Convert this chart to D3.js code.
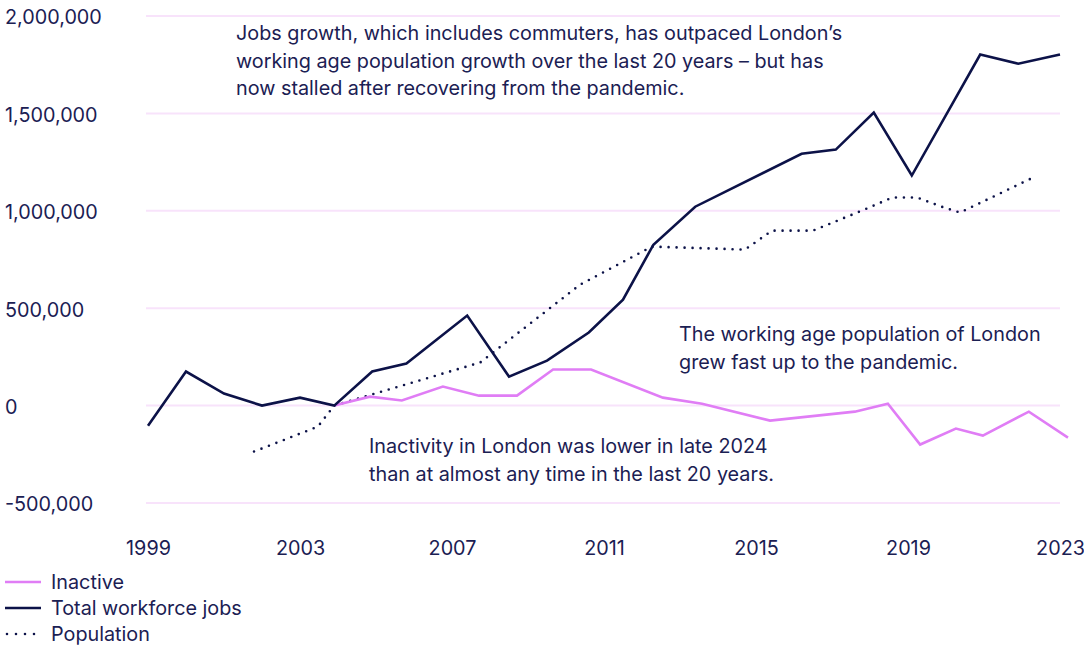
<!DOCTYPE html>
<html lang="en">
<head>
    <meta charset="UTF-8">
    <title>London jobs, population and inactivity</title>
    <script src="https://d3js.org/d3.v7.min.js"></script>
    <style>
        body { margin: 0; background: #fff; overflow: hidden; }
        text { font-family: "Inter", "Lato", sans-serif; }
    </style>
</head>
<body>
    <svg width="1084" height="646" id="chart"></svg>

    <script>
        // Data (change since 2004, decimal years)
        const jobsYears = [1999, 2000, 2001, 2002, 2003, 2003.9, 2004.9, 2005.8, 2007.4, 2008.5, 2009.5,
            2010.6, 2011.5, 2012.3, 2013.4, 2016.2, 2017.1, 2018.1, 2019.1, 2020.9, 2021.9, 2023];
        const jobsValues = [-103000, 175000, 62000, 0, 41000, 0, 175000, 216000, 462000, 149000, 231000,
            375000, 544000, 826000, 1021000, 1293000, 1314000, 1504000, 1181000, 1802000, 1755000, 1802000];

        const inactiveYears = [2003.9, 2004.84, 2005.68, 2006.76, 2007.71, 2008.71, 2009.66, 2010.66,
            2012.55, 2013.58, 2015.37, 2017.6, 2018.47, 2019.32, 2020.26, 2020.97, 2022.18, 2023.21];
        const inactiveValues = [0, 46000, 26000, 98000, 51000, 51000, 185000, 185000,
            41000, 10000, -77000, -31000, 10000, -200000, -118000, -154000, -31000, -164000];

        const popYears = [2001.79, 2003.47, 2003.9, 2007.74, 2010.37, 2012.26, 2014.71, 2015.42,
            2016.5, 2017.9, 2018.58, 2019.24, 2019.9, 2020.37, 2022.34];
        const popValues = [-236000, -108000, 0, 221000, 621000, 816000, 801000, 898000,
            898000, 1010000, 1068000, 1068000, 1020000, 991000, 1175000];

        const yTicks = [-500000, 0, 500000, 1000000, 1500000, 2000000];
        const xTicks = [1999, 2003, 2007, 2011, 2015, 2019, 2023];

        const legendLabels = ["Inactive", "Total workforce jobs", "Population"];

        const notes = [
            { x: 236, y: 40, lines: ["Jobs growth, which includes commuters, has outpaced London\u2019s",
                "working age population growth over the last 20 years \u2013 but has",
                "now stalled after recovering from the pandemic."] },
            { x: 679, y: 341, lines: ["The working age population of London", "grew fast up to the pandemic."] },
            { x: 369, y: 453, lines: ["Inactivity in London was lower in late 2024",
                "than at almost any time in the last 20 years."] }
        ];

        // Colours
        const navy = "#0c1248";
        const textColor = "#1b2053";
        const pink = "#e07df5";
        const gridColor = "#f8e3fb";
        const fontSize = 19.8;

        const svg = d3.select("#chart");

        const x = d3.scaleLinear().domain([1999, 2023]).range([148, 1060]);
        const y = d3.scaleLinear().domain([-500000, 2000000]).range([503, 16]);

        // Gridlines
        svg.append("g")
            .selectAll("line")
            .data(yTicks)
            .join("line")
            .attr("x1", 146)
            .attr("x2", 1060)
            .attr("y1", d => y(d))
            .attr("y2", d => y(d))
            .attr("stroke", gridColor)
            .attr("stroke-width", 2);

        // Y axis labels, left aligned, plain hyphen for negatives
        const fmt = d3.format(",");
        const yAxis = svg.append("g")
            .attr("transform", "translate(5,0)")
            .call(d3.axisRight(y).tickValues(yTicks).tickSize(0).tickPadding(0)
                .tickFormat(d => fmt(d).replace("\u2212", "-")));
        yAxis.select(".domain").remove();
        yAxis.selectAll("text")
            .attr("dy", "0.4em")
            .attr("text-anchor", "start")
            .style("font-family", "Inter, Lato, sans-serif")
            .style("font-size", fontSize + "px")
            .attr("fill", textColor);

        // X axis
        const xAxis = svg.append("g")
            .attr("transform", "translate(0,535)")
            .call(d3.axisBottom(x).tickValues(xTicks).tickSize(0).tickPadding(6)
                .tickFormat(d3.format("d")));
        xAxis.select(".domain").remove();
        xAxis.selectAll("text")
            .style("font-family", "Inter, Lato, sans-serif")
            .style("font-size", fontSize + "px")
            .attr("fill", textColor);

        // Lines
        const line = d3.line().x(d => x(d[0])).y(d => y(d[1]));

        svg.append("path")
            .attr("d", line(popYears.map((yr, i) => [yr, popValues[i]])))
            .attr("fill", "none")
            .attr("stroke", navy)
            .attr("stroke-width", 2.6)
            .attr("stroke-linecap", "round")
            .attr("stroke-dasharray", "0 8");

        svg.append("path")
            .attr("d", line(inactiveYears.map((yr, i) => [yr, inactiveValues[i]])))
            .attr("fill", "none")
            .attr("stroke", pink)
            .attr("stroke-width", 2.6);

        svg.append("path")
            .attr("d", line(jobsYears.map((yr, i) => [yr, jobsValues[i]])))
            .attr("fill", "none")
            .attr("stroke", navy)
            .attr("stroke-width", 2.6);

        // Annotations
        notes.forEach(n => {
            const t = svg.append("text")
                .attr("x", n.x)
                .attr("y", n.y)
                .attr("fill", textColor)
                .style("font-size", fontSize + "px");
            n.lines.forEach((ln, i) => {
                t.append("tspan")
                    .attr("x", n.x)
                    .attr("dy", i === 0 ? 0 : 27.5)
                    .text(ln);
            });
        });

        // Legend
        const legend = svg.append("g").attr("transform", "translate(5,582)");
        legendLabels.forEach((label, i) => {
            const row = legend.append("g").attr("transform", `translate(0,${i * 26})`);
            const ln = row.append("line")
                .attr("x1", i === 2 ? 2 : 0).attr("x2", 36)
                .attr("y1", 0).attr("y2", 0)
                .attr("stroke", i === 0 ? pink : navy)
                .attr("stroke-width", 2.6);
            if (i === 2) {
                ln.attr("stroke-dasharray", "0 9").attr("stroke-linecap", "round");
            }
            row.append("text")
                .attr("x", 46)
                .attr("y", 0)
                .attr("dy", "0.35em")
                .attr("fill", textColor)
                .style("font-size", fontSize + "px")
                .text(label);
        });
    </script>
</body>
</html>
